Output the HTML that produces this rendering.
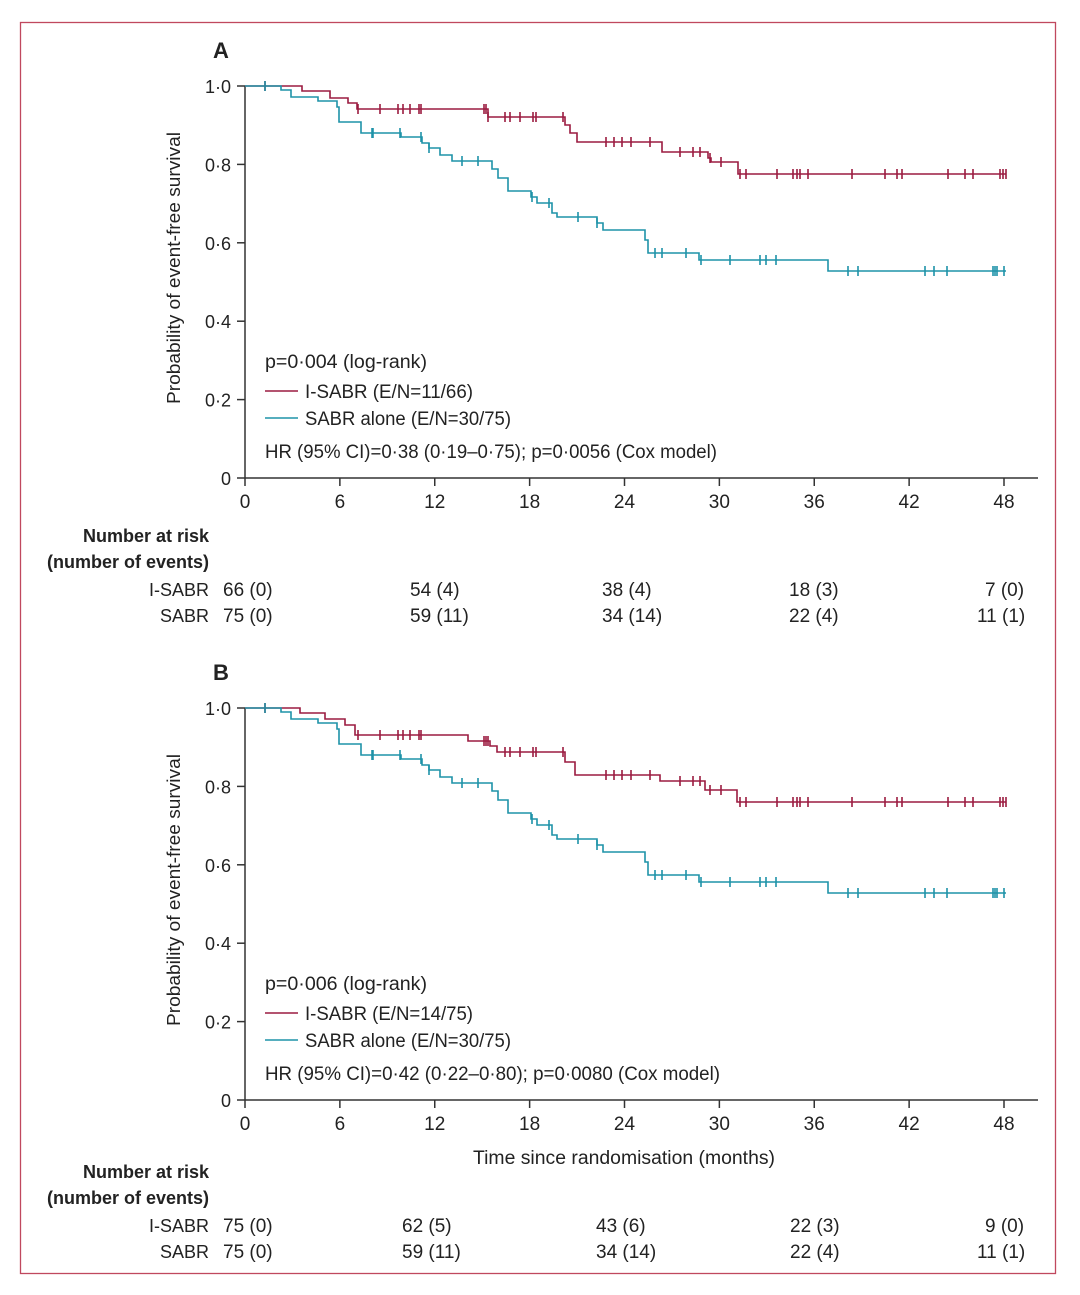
<!DOCTYPE html>
<html><head><meta charset="utf-8"><style>
html,body{margin:0;padding:0;background:#fff;}
svg text{font-family:"Liberation Sans",sans-serif;fill:#222;}
</style></head><body>
<svg id="s" width="1080" height="1290" viewBox="0 0 1080 1290" xmlns="http://www.w3.org/2000/svg">
<rect x="20.5" y="22.5" width="1035" height="1251" fill="none" stroke="#c0485e" stroke-width="1.3"/>
</svg>
<script>
const S=document.getElementById('s');
let h='';
const RED='#9b1b40', CY='#1e93a8';
function step(pts,off){ // pts: [x,y] change points; start [245,86]
  let d='M245 '+(86+off), cy=86+off;
  for(const [x,y] of pts){ d+=' H'+x+' V'+(y+off); }
  d+=' H1006';
  return d;
}
function ticks(list,pts,off,col){
  let s='';
  for(const x of list){
    let y=86;
    for(const [px,py] of pts){ if(x>=px) y=py; }
    y+=off;
    s+=`<line x1="${x}" y1="${y-5}" x2="${x}" y2="${y+5}" stroke="${col}" stroke-width="1.6"/>`;
  }
  return s;
}
const redA=[[302,91],[330,98],[348,103],[357,109],[488,117],[565,125],[570,133],[577,142],[662,152],[708,158],[711,162],[738,174]];
const redB=[[300,713],[325,719],[345,725],[355,735],[468,741],[490,746],[497,752],[565,762],[575,775],[660,781],[705,790],[737,802]].map(p=>[p[0],p[1]-622]);
const cyA=[[281,90],[291,97],[318,101],[337,107],[339,122],[361,133],[401,137],[422,143],[429,148],[440,155],[452,161],[492,169],[498,178],[508,191],[531,197],[537,203],[552,213],[557,217],[597,223],[603,230],[645,240],[648,253],[699,260],[828,271]];
const rtA=[265,358,380,398,403,410,419,421,484,486,488,505,510,520,533,536,563,606,614,622,631,650,680,693,700,710,721,740,746,777,793,797,800,808,852,885,897,902,948,965,973,1000,1003,1006];
const ctA=[265,372,373,400,421,429,462,478,532,549,578,597,655,662,686,701,730,760,766,776,848,858,925,934,947,993,995,997,1004];
function panel(off,red,lab,p,e1,hr,risk){
  // axes
  h+=`<line x1="245" y1="${86+off}" x2="245" y2="${478+off}" stroke="#333" stroke-width="1.5"/>`;
  h+=`<line x1="245" y1="${478+off}" x2="1038" y2="${478+off}" stroke="#333" stroke-width="1.5"/>`;
  const yl=['0','0·2','0·4','0·6','0·8','1·0'];
  for(let i=0;i<6;i++){const y=478-i*78.4+off;
    h+=`<line x1="237" y1="${y}" x2="245" y2="${y}" stroke="#333" stroke-width="1.5"/>`;
    h+=`<text x="231" y="${y+7}" font-size="18" text-anchor="end">${yl[i]}</text>`;}
  for(let i=0;i<=8;i++){const x=245+i*94.875;
    h+=`<line x1="${x}" y1="${478+off}" x2="${x}" y2="${486+off}" stroke="#333" stroke-width="1.5"/>`;
    h+=`<text x="${x}" y="${508+off}" font-size="19" text-anchor="middle">${i*6}</text>`;}
  h+=`<text x="221" y="${58+off}" font-size="22" font-weight="bold" text-anchor="middle">${lab}</text>`;
  h+=`<text transform="translate(180 ${268+off}) rotate(-90)" font-size="18" text-anchor="middle" textLength="272" lengthAdjust="spacingAndGlyphs">Probability of event-free survival</text>`;
  h+=`<path d="${step(red,off)}" fill="none" stroke="${RED}" stroke-width="1.6"/>`;
  h+=`<path d="${step(cyA,off)}" fill="none" stroke="${CY}" stroke-width="1.6"/>`;
  h+=ticks(rtA,red,off,RED)+ticks(ctA,cyA,off,CY);
  h+=`<text x="265" y="${368+off}" font-size="19" textLength="162" lengthAdjust="spacingAndGlyphs">${p}</text>`;
  h+=`<line x1="265" y1="${391+off}" x2="298" y2="${391+off}" stroke="${RED}" stroke-width="1.5"/>`;
  h+=`<text x="305" y="${398+off}" font-size="19" textLength="168" lengthAdjust="spacingAndGlyphs">${e1}</text>`;
  h+=`<line x1="265" y1="${418+off}" x2="298" y2="${418+off}" stroke="${CY}" stroke-width="1.5"/>`;
  h+=`<text x="305" y="${425+off}" font-size="19" textLength="206" lengthAdjust="spacingAndGlyphs">SABR alone (E/N=30/75)</text>`;
  h+=`<text x="265" y="${458+off}" font-size="19" textLength="${hr[1]}" lengthAdjust="spacingAndGlyphs">${hr[0]}</text>`;
  const ro=risk.off;
  h+=`<text x="209" y="${542+ro}" font-size="18" font-weight="bold" text-anchor="end">Number at risk</text>`;
  h+=`<text x="209" y="${568+ro}" font-size="18" font-weight="bold" text-anchor="end">(number of events)</text>`;
  h+=`<text x="209" y="${596+ro}" font-size="18" text-anchor="end">I-SABR</text>`;
  h+=`<text x="209" y="${622+ro}" font-size="18" text-anchor="end">SABR</text>`;
  for(const [x,t] of risk.r1) h+=`<text x="${x}" y="${596+ro}" font-size="19">${t}</text>`;
  for(const [x,t] of risk.r2) h+=`<text x="${x}" y="${622+ro}" font-size="19">${t}</text>`;
}
panel(0,redA,'A','p=0·004 (log-rank)','I-SABR (E/N=11/66)',['HR (95% CI)=0·38 (0·19–0·75); p=0·0056 (Cox model)',452],
 {off:0,r1:[[223,'66 (0)'],[410,'54 (4)'],[602,'38 (4)'],[789,'18 (3)'],[985,'7 (0)']],
  r2:[[223,'75 (0)'],[410,'59 (11)'],[602,'34 (14)'],[789,'22 (4)'],[977,'11 (1)']]});
panel(622,redB,'B','p=0·006 (log-rank)','I-SABR (E/N=14/75)',['HR (95% CI)=0·42 (0·22–0·80); p=0·0080 (Cox model)',455],
 {off:636,r1:[[223,'75 (0)'],[402,'62 (5)'],[596,'43 (6)'],[790,'22 (3)'],[985,'9 (0)']],
  r2:[[223,'75 (0)'],[402,'59 (11)'],[596,'34 (14)'],[790,'22 (4)'],[977,'11 (1)']]});
h+=`<text x="624" y="1164" font-size="19" text-anchor="middle" textLength="302" lengthAdjust="spacingAndGlyphs">Time since randomisation (months)</text>`;
S.insertAdjacentHTML('beforeend',h);
</script>
</body></html>
